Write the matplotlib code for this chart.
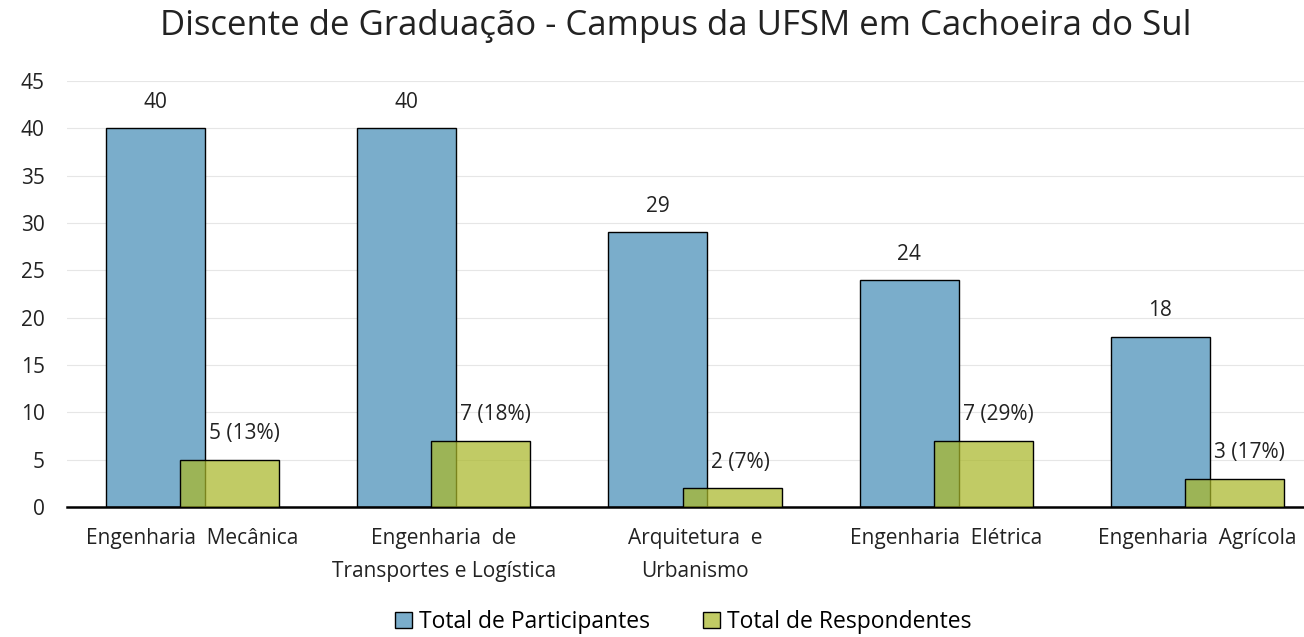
import numpy as np
import matplotlib
matplotlib.use("Agg")
import matplotlib.pyplot as plt
from matplotlib.patches import Patch

plt.rcParams['font.family'] = ['Open Sans', 'DejaVu Sans']

categories = ["Engenharia  Mecânica", "Engenharia  de\nTransportes e Logística",
              "Arquitetura  e\nUrbanismo", "Engenharia  Elétrica", "Engenharia  Agrícola"]
participantes = [40, 40, 29, 24, 18]
respondentes = [5, 7, 2, 7, 3]
resp_labels = ["5 (13%)", "7 (18%)", "2 (7%)", "7 (29%)", "3 (17%)"]

blue = "#7AADCB"
green = (170/255, 184/255, 41/255, 0.72)
txt = "#222222"

fig = plt.figure(figsize=(13.04, 6.37), dpi=100)
ax = fig.add_axes([67/1304, 1 - 507/637, (1304 - 67)/1304, (507 - 81)/637])

x = np.arange(len(categories))
w = 0.394
off = 0.148

ax.bar(x - off, participantes, width=w, color=blue, edgecolor="black", linewidth=1, zorder=2)
ax.bar(x + off, respondentes, width=w, color=green, edgecolor="black", linewidth=1, zorder=3)

for xi, v in zip(x, participantes):
    ax.annotate(str(v), (xi - off, v), xytext=(0, 11), textcoords="offset points",
                ha="center", va="bottom", fontsize=15, color=txt)
# respondent labels sit just right of the blue bar edge
for xi, v, lab in zip(x, respondentes, resp_labels):
    ax.annotate(lab, (xi - off + w / 2, v), xytext=(3, 11), textcoords="offset points",
                ha="left", va="bottom", fontsize=15, color=txt)

ax.set_xlim(-0.5, -0.5 + (1304 - 67) / 251.2)
ax.set_ylim(0, 45)
ax.set_yticks(range(0, 50, 5))
ax.set_xticks(x)
ax.set_xticklabels(categories, fontsize=15, color=txt, linespacing=1.75)
ax.tick_params(axis="y", labelsize=15, labelcolor=txt, length=0, pad=16)
ax.tick_params(axis="x", length=0, pad=15)

ax.grid(axis="y", color="#E6E6E6", linewidth=0.8, zorder=0)
ax.set_axisbelow(True)
for s in ["top", "right", "left"]:
    ax.spines[s].set_visible(False)
ax.spines["bottom"].set_linewidth(1.8)
ax.spines["bottom"].set_color("black")

fig.suptitle("Discente de Graduação - Campus da UFSM em Cachoeira do Sul",
             x=0.518, y=1 - 26/637, va="center", fontsize=25, color=txt)

handles = [Patch(facecolor=blue, edgecolor="black", label="Total de Participantes"),
           Patch(facecolor=green, edgecolor="black", label="Total de Respondentes")]
fig.legend(handles=handles, loc="center", bbox_to_anchor=(0.524, 1 - 622/637), ncol=2,
           frameon=False, fontsize=16.5, handlelength=0.75, handleheight=0.75,
           columnspacing=2.3, handletextpad=0.3)

fig.savefig("out.png", dpi=100)
